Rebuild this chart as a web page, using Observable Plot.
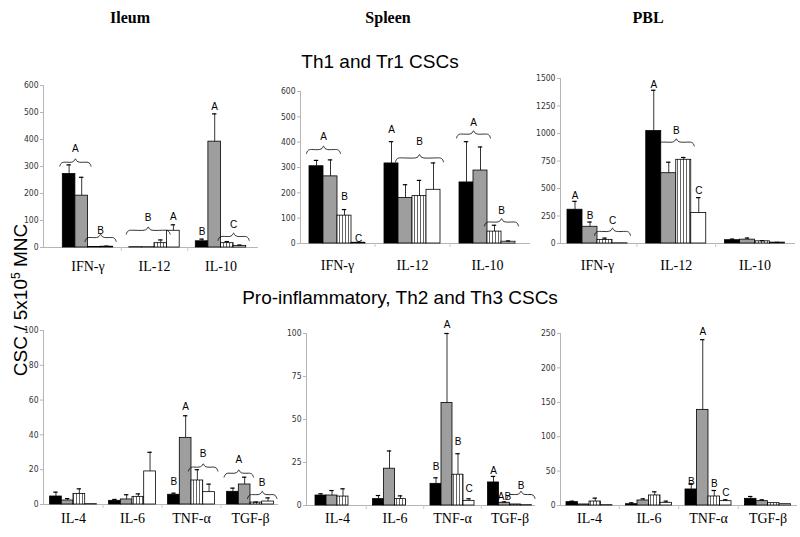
<!DOCTYPE html>
<html><head><meta charset="utf-8">
<script src="https://cdn.jsdelivr.net/npm/d3@7"></script>
<script src="https://cdn.jsdelivr.net/npm/@observablehq/plot@0.6"></script>
<style>
body{margin:0;background:#fff;}
#root{position:relative;width:800px;height:537px;overflow:hidden;background:#fff;font-family:"Liberation Sans",Arial,sans-serif;}
.t{position:absolute;transform:translate(-50%,-50%);white-space:nowrap;color:#000;}
.col{font-family:"Liberation Serif","Times New Roman",serif;font-weight:bold;font-size:16px;}
.sec{font-family:"Liberation Sans",Arial,sans-serif;font-size:19px;}
.ylab{font-family:"Liberation Sans",Arial,sans-serif;font-size:19px;transform:translate(-50%,-50%) rotate(-90deg);}
.ylab sup{font-size:12px;vertical-align:7px;line-height:0;}
.pl{position:absolute;}
</style></head><body>
<svg width="0" height="0" style="position:absolute"><defs>
<pattern id="vstripe" width="3" height="6" patternUnits="userSpaceOnUse"><rect width="3" height="6" fill="#fff"/><line x1="1.5" y1="0" x2="1.5" y2="6" stroke="#555" stroke-width="0.9"/></pattern>
</defs></svg>
<div id="root">
  <div class="t col" style="left:130px;top:18px">Ileum</div>
  <div class="t col" style="left:388px;top:18px">Spleen</div>
  <div class="t col" style="left:648px;top:18px">PBL</div>
  <div class="t sec" style="left:380px;top:62px">Th1 and Tr1 CSCs</div>
  <div class="t sec" style="left:400px;top:298px">Pro-inflammatory, Th2 and Th3 CSCs</div>
  <div class="t ylab" style="left:21px;top:300px">CSC / 5x10<sup>5</sup> MNC</div>
</div>
<script>
// ---- categories and series ----
const th1Cats = ["IFN-γ", "IL-12", "IL-10"];
const proCats = ["IL-4", "IL-6", "TNF-α", "TGF-β"];
const seriesFill = ["#000000", "#9e9e9e", "url(#vstripe)", "#ffffff"];

// ---- Th1 and Tr1 CSCs (means per category: black, gray, striped, white) ----
const ileumTh1Mean = [[272, 192, 2, 3], [1, 1, 16, 62], [23, 392, 16, 6]];
const ileumTh1Err  = [[34, 68, 0, 2], [0, 0, 12, 22], [8, 103, 6, 3]];
const spleenTh1Mean = [[305, 265, 110, 3], [316, 180, 187, 212], [241, 288, 47, 7]];
const spleenTh1Err  = [[23, 65, 24, 1], [86, 52, 62, 106], [161, 93, 25, 3]];
const pblTh1Mean = [[307, 152, 33, 2], [1022, 639, 761, 277], [30, 35, 20, 8]];
const pblTh1Err  = [[76, 43, 16, 0], [371, 100, 21, 140], [10, 15, 5, 2]];

// ---- Pro-inflammatory, Th2 and Th3 CSCs ----
const ileumProMean = [[4.6, 2.3, 6.1, 0.2], [2.1, 2.9, 4.4, 19], [5.6, 38.3, 13.8, 7.1], [7.3, 11.5, 1.1, 1.7]];
const ileumProErr  = [[2.5, 1.1, 2.9, 0], [0.8, 2.7, 1.7, 11], [0.9, 12.7, 6.2, 4.6], [2.1, 4.2, 0.3, 2.1]];
const spleenProMean = [[5.8, 5.8, 5.2, 0], [3.7, 21.4, 3.7, 0], [12.6, 59.6, 17.9, 2.7], [13.4, 1.6, 0.6, 0.2]];
const spleenProErr  = [[1, 2.9, 4.5, 0], [2.1, 10.3, 1.9, 0], [3.5, 40.4, 12.2, 1.2], [3.5, 0.5, 0, 0]];
const pblProMean = [[4.9, 1.5, 5.8, 0.5], [1.9, 7.3, 14.6, 3.9], [23.3, 139, 13.1, 6.3], [9.7, 6.3, 3.4, 1.9]];
const pblProErr  = [[1.4, 0, 4.9, 0], [2, 2.4, 5.3, 2.4], [8.3, 102, 8.7, 2], [3.4, 2, 0, 0]];

// ---- significance letters: [category, first bar, last bar, brace value (or null), letter value, label] ----
const ileumTh1Notes = [[0,0,1,316,365,"A"],[0,2,3,37,62,"B"],[1,0,2,64,111,"B"],[1,3,3,null,114,"A"],[2,0,0,null,59,"B"],[2,1,1,null,522,"A"],[2,2,3,41,84,"C"]];
const spleenTh1Notes = [[0,0,1,371,422,"A"],[0,2,2,null,183,"B"],[0,3,3,null,20,"C"],[1,0,0,null,448,"A"],[1,1,3,338,400,"B"],[2,0,1,432,478,"A"],[2,2,3,85,131,"B"]];
const pblTh1Notes = [[0,0,0,null,435,"A"],[0,1,1,null,252,"B"],[0,2,3,110,207,"C"],[1,0,0,null,1439,"A"],[1,1,2,922,1028,"B"],[1,3,3,null,481,"C"]];
const ileumProNotes = [[2,0,0,null,12.8,"B"],[2,1,1,null,56,"A"],[2,2,3,21.5,29,"B"],[3,0,1,18,25.7,"A"],[3,2,3,5.7,12.3,"B"]];
const spleenProNotes = [[2,0,0,null,22.3,"B"],[2,1,1,null,105,"A"],[2,2,2,null,37,"B"],[2,3,3,null,9.7,"C"],[3,0,0,null,20,"A"],[3,1,1,null,5.2,"AB"],[3,2,3,6.4,11.3,"B"]];
const pblProNotes = [[2,0,0,null,34,"B"],[2,1,1,null,252,"A"],[2,2,2,null,31.6,"B"],[2,3,3,null,18.4,"C"]];

// ---- layout of the six panels (page pixels) ----
const panels = [
  {cats: th1Cats, mean: ileumTh1Mean, err: ileumTh1Err, notes: ileumTh1Notes, x0: 43, x1: 258, yB: 247, yT: 85, ymax: 600, step: 100, c0: 87.5, gs: 66.5, bwPx: 12.6, labDy: 19},
  {cats: th1Cats, mean: spleenTh1Mean, err: spleenTh1Err, notes: spleenTh1Notes, x0: 300, x1: 530, yB: 243, yT: 91, ymax: 600, step: 100, c0: 337, gs: 75, bwPx: 14, labDy: 22},
  {cats: th1Cats, mean: pblTh1Mean, err: pblTh1Err, notes: pblTh1Notes, x0: 560, x1: 795, yB: 243, yT: 78, ymax: 1500, step: 250, c0: 597, gs: 78.75, bwPx: 15, labDy: 22},
  {cats: proCats, mean: ileumProMean, err: ileumProErr, notes: ileumProNotes, x0: 43, x1: 278, yB: 504, yT: 330, ymax: 100, step: 20, c0: 73, gs: 59, bwPx: 11.7, labDy: 14},
  {cats: proCats, mean: spleenProMean, err: spleenProErr, notes: spleenProNotes, x0: 306, x1: 535, yB: 505, yT: 333, ymax: 100, step: 25, c0: 337, gs: 57.5, bwPx: 11, labDy: 13},
  {cats: proCats, mean: pblProMean, err: pblProErr, notes: pblProNotes, x0: 560, x1: 797, yB: 505, yT: 333, ymax: 250, step: 50, c0: 589, gs: 59.5, bwPx: 11.5, labDy: 13}
];

const braceShape = [[0,0,-4],[0,1,-1.6],[0,3,-0.2],[0,5,0],[0.5,-4,0],[0.5,-1.5,1.1],[0.5,0,3.3],[0.5,1.5,1.1],[0.5,4,0],[1,-5,0],[1,-3,-0.2],[1,-1,-1.6],[1,0,-4]];

function drawPanel(p) {
  const mL = 34, mR = 6, mT = 16, mB = 30;
  const lo = (p.x0 - p.c0) / p.gs, hi = (p.x1 - p.c0) / p.gs, bw = p.bwPx / p.gs;
  const pxX = 1 / p.gs, pxY = p.ymax / (p.yB - p.yT);
  const rows = [];
  p.cats.forEach((c, i) => p.mean[i].forEach((v, s) => rows.push({
    i, s, v, e: p.err[i][s], xa: i + (s - 2) * bw, xb: i + (s - 1) * bw, cx: i + (s - 1.5) * bw
  })));
  const errRows = rows.filter(d => d.e > 0);
  const notes = p.notes.map(([c, s0, s1, by, ly, label], k) => ({
    k, by, ly, label,
    xa: c + (s0 - 2) * bw, xb: c + (s1 - 1) * bw, cx: c + ((s0 + s1) / 2 - 1.5) * bw
  }));
  const bracePts = [];
  notes.filter(n => n.by != null).forEach(n => {
    const xa = n.xa - 3 * pxX, xb = n.xb + 3 * pxX;
    braceShape.forEach(([a, dx, dy]) => bracePts.push({k: n.k, x: xa + a * (xb - xa) + dx * pxX, y: n.by + dy * pxY}));
  });
  const bounds = d3.range(p.cats.length - 1).map(i => i + 0.5);
  const cap = 2.2 * pxX;
  const plot = Plot.plot({
    width: p.x1 - p.x0 + mL + mR,
    height: p.yB - p.yT + mT + mB,
    marginLeft: mL, marginRight: mR, marginTop: mT, marginBottom: mB,
    style: {background: "transparent", overflow: "visible"},
    x: {domain: [lo, hi]},
    y: {domain: [0, p.ymax]},
    marks: [
      Plot.ruleY([0], {stroke: "#b5b5b5", strokeWidth: 1}),
      Plot.ruleX([lo], {stroke: "#b5b5b5", strokeWidth: 1}),
      Plot.axisY({ticks: d3.range(0, p.ymax + 1e-9, p.step), tickFormat: d => String(d), tickSize: 3, tickPadding: 2, stroke: "#b5b5b5", fill: "#333",
        fontSize: 8.5, fontFamily: "'Liberation Sans Narrow','Arial Narrow','DejaVu Sans Condensed',sans-serif", label: null}),
      Plot.axisX({ticks: bounds, tickSize: 4, stroke: "#c8c8c8", tickFormat: () => "", label: null}),
      ...[0, 1, 2, 3].map(s => Plot.rectY(rows.filter(d => d.s === s && d.v > 0), {
        x1: "xa", x2: "xb", y1: 0, y2: "v", fill: seriesFill[s], stroke: "#000", strokeWidth: 0.8
      })),
      Plot.ruleX(errRows, {x: "cx", y1: "v", y2: d => d.v + d.e, stroke: "#000", strokeWidth: 0.8}),
      Plot.ruleY(errRows, {y: d => d.v + d.e, x1: d => d.cx - cap, x2: d => d.cx + cap, stroke: "#000", strokeWidth: 1.2}),
      Plot.line(bracePts, {x: "x", y: "y", z: "k", stroke: "#000", strokeWidth: 0.8, curve: "catmull-rom"}),
      Plot.text(notes, {x: "cx", y: "ly", text: "label", fontSize: 10, fill: "#000", lineAnchor: "middle",
        fontFamily: "'Liberation Sans',Arial,sans-serif"}),
      Plot.text(p.cats, {x: (d, i) => i, y: 0, dy: p.labDy, text: d => d, lineAnchor: "middle", fontSize: 14, fill: "#000",
        fontFamily: "'Liberation Serif','Times New Roman',serif"})
    ]
  });
  plot.classList.add("pl");
  plot.style.left = (p.x0 - mL) + "px";
  plot.style.top = (p.yT - mT) + "px";
  document.getElementById("root").appendChild(plot);
}
panels.forEach(drawPanel);
</script>
</body></html>
